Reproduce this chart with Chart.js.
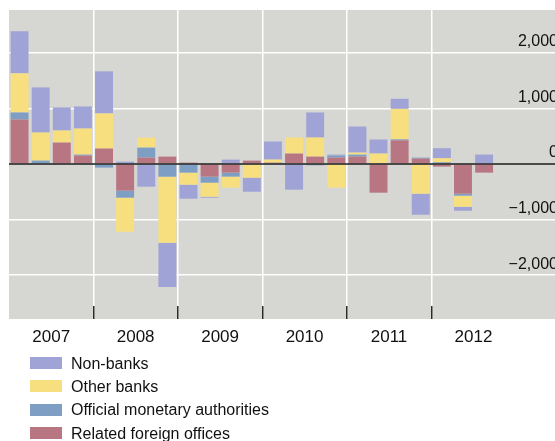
<!DOCTYPE html>
<html>
<head>
<meta charset="utf-8">
<script src="https://cdn.jsdelivr.net/npm/chart.js@4.4.1/dist/chart.umd.min.js"></script>
<style>
  html, body { margin: 0; padding: 0; background: #fff; overflow: hidden; }
  #wrap { position: absolute; left: 0; top: 0; width: 558px; height: 368px; }
  #legend { position: absolute; left: 0; top: 0; font-family: "Liberation Sans", Arial, sans-serif; font-size: 16px; color: #111; }
  .row { position: absolute; left: 30px; width: 300px; height: 20px; }
  .box { position: absolute; left: 0; top: 0; width: 32px; height: 12px; }
  .txt { position: absolute; left: 41px; top: -1.5px; line-height: 16px; white-space: nowrap; }
</style>
</head>
<body>
<div id="wrap"><canvas id="chart"></canvas></div>
<div id="legend"></div>
<script>
var years = ['2007', '2008', '2009', '2010', '2011', '2012'];
var quarters = [];
years.forEach(function(y) {
  ['Q1', 'Q2', 'Q3', 'Q4'].forEach(function(q) { quarters.push(y + ' ' + q); });
});
quarters.push('pad1', 'pad2');

var yTicks = [-2000, -1000, 0, 1000, 2000];

// stacked from zero outwards: related offices, official, other banks, non-banks
var relatedForeignOffices = [800, 0, 385, 150, 277, -481, 114, 132, 24, -229, -156, 60, 24, 187, 132, 114, 132, -517, 425, 96, -48, -535, -156];
var officialMonetary = [126, 60, 0, 18, -66, -126, 180, -229, -156, -108, -72, 0, 0, 0, -25, 36, 36, 0, 18, 18, 30, -36, 0];
var otherBanks = [704, 505, 217, 469, 632, -614, 180, -1191, -217, -253, -199, -247, 54, 289, 343, -427, 36, 187, 548, -535, 72, -199, 0];
var nonBanks = [758, 812, 415, 397, 758, 42, -409, -794, -253, -18, 78, -253, 325, -463, 451, 18, 469, 253, 181, -379, 181, -72, 169];

var FONT = '"Liberation Sans", Arial, sans-serif';
var GRAY = '#d6d6d2';

function isYearEdge(i) {
  return i > 0 && i <= 20 && i % 4 === 0;
}

var datasets = [
  { label: 'Related foreign offices', data: relatedForeignOffices, backgroundColor: '#b87682' },
  { label: 'Official monetary authorities', data: officialMonetary, backgroundColor: '#7e9ec3' },
  { label: 'Other banks', data: otherBanks, backgroundColor: '#f7df80' },
  { label: 'Non-banks', data: nonBanks, backgroundColor: '#a0a3d6' }
];

var plotBg = {
  id: 'plotBg',
  beforeDraw: function(chart) {
    var a = chart.chartArea, ctx = chart.ctx;
    ctx.save();
    ctx.fillStyle = GRAY;
    ctx.fillRect(a.left, a.top, a.right - a.left, a.bottom - a.top);
    ctx.restore();
  }
};

var zeroLine = {
  id: 'zeroLine',
  afterDatasetsDraw: function(chart) {
    var a = chart.chartArea, ctx = chart.ctx;
    var y = chart.scales.y.getPixelForValue(0);
    ctx.save();
    ctx.strokeStyle = '#1c1c1c';
    ctx.lineWidth = 1.5;
    ctx.beginPath();
    ctx.moveTo(a.left, y);
    ctx.lineTo(a.right, y);
    ctx.stroke();
    ctx.restore();
  }
};

var config = {
  type: 'bar',
  data: { labels: quarters, datasets: datasets },
  options: {
    responsive: true,
    maintainAspectRatio: false,
    animation: false,
    layout: { padding: { left: 9, top: 10, right: 0, bottom: 0 } },
    datasets: { bar: { barPercentage: 0.85, categoryPercentage: 1.0, borderWidth: 0 } },
    plugins: {
      legend: { display: false },
      tooltip: { enabled: false }
    },
    scales: {
      x: {
        stacked: true,
        offset: true,
        border: { display: false },
        grid: {
          offset: true,
          lineWidth: 1.5,
          color: function(c) { return isYearEdge(c.index) ? '#ffffff' : 'rgba(0,0,0,0)'; },
          tickLength: -13,
          tickWidth: 1.5,
          tickColor: function(c) { return isYearEdge(c.index) ? '#2b2b2b' : 'rgba(0,0,0,0)'; }
        },
        ticks: {
          autoSkip: false,
          maxRotation: 0,
          minRotation: 0,
          padding: 10,
          labelOffset: 10.5,
          color: '#111',
          font: { family: FONT, size: 17, lineHeight: 2.47 },
          callback: function(value, index) {
            return (index % 4 === 1 && index < 24) ? years[(index - 1) / 4] : '';
          }
        }
      },
      y: {
        stacked: true,
        position: 'right',
        min: -2790,
        max: 2770,
        border: { display: false },
        afterBuildTicks: function(axis) {
          axis.ticks = yTicks.map(function(v) { return { value: v }; });
        },
        grid: {
          drawTicks: false,
          lineWidth: 1.5,
          color: function(c) { return (c.tick && c.tick.value === 0) ? 'rgba(0,0,0,0)' : '#ffffff'; }
        },
        ticks: {
          mirror: true,
          padding: 0,
          labelOffset: -11,
          color: '#111',
          font: { family: FONT, size: 16 },
          callback: function(v) {
            return (v < 0 ? '\u2212' : '') + Math.abs(v).toLocaleString('en-US');
          }
        }
      }
    }
  },
  plugins: [plotBg, zeroLine]
};

window.onload = function() {
  var legend = document.getElementById('legend');
  datasets.slice().reverse().forEach(function(ds, i) {
    var row = document.createElement('div');
    row.className = 'row';
    row.style.top = (357 + i * 23.4) + 'px';
    row.innerHTML = '<span class="box" style="background:' + ds.backgroundColor + '"></span><span class="txt"></span>';
    row.querySelector('.txt').textContent = ds.label;
    legend.appendChild(row);
  });
  window.myBar = new Chart(document.getElementById('chart'), config);
};
</script>
</body>
</html>
